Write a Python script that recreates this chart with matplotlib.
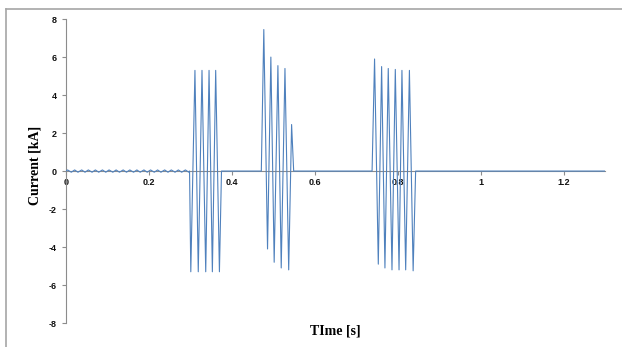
import matplotlib
matplotlib.use("Agg")
import matplotlib.pyplot as plt
from matplotlib.lines import Line2D

plt.rcParams["axes.unicode_minus"] = False

# ripple before the first burst (kA)
ripple_t = [0.0, 0.004, 0.013, 0.021, 0.029, 0.038, 0.046, 0.054, 0.063, 0.071, 0.079,
            0.088, 0.096, 0.104, 0.113, 0.121, 0.129, 0.138, 0.146, 0.154, 0.163,
            0.171, 0.179, 0.188, 0.196, 0.204, 0.213, 0.221, 0.229, 0.238, 0.246,
            0.254, 0.263, 0.271, 0.279, 0.288, 0.296]
ripple_i = [0.0, 0.06, -0.06, 0.06, -0.06, 0.06, -0.06, 0.06, -0.06, 0.06, -0.06,
            0.06, -0.06, 0.06, -0.06, 0.06, -0.06, 0.06, -0.06, 0.06, -0.06,
            0.06, -0.06, 0.06, -0.06, 0.06, -0.06, 0.06, -0.06, 0.06, -0.06,
            0.06, -0.06, 0.06, -0.06, 0.06, -0.06]

burst1_t = [0.298, 0.301, 0.311, 0.319, 0.328, 0.337, 0.345, 0.353, 0.361, 0.370, 0.375]
burst1_i = [0.0, -5.3, 5.3, -5.3, 5.3, -5.3, 5.3, -5.3, 5.3, -5.3, 0.0]

burst2_t = [0.471, 0.477, 0.486, 0.494, 0.502, 0.511, 0.519, 0.528, 0.537, 0.544, 0.549]
burst2_i = [0.0, 7.45, -4.1, 6.0, -4.8, 5.55, -5.1, 5.4, -5.2, 2.45, 0.0]

burst3_t = [0.738, 0.744, 0.753, 0.761, 0.769, 0.777, 0.786, 0.794, 0.803, 0.810,
            0.819, 0.828, 0.837, 0.843]
burst3_i = [0.0, 5.9, -4.9, 5.5, -5.1, 5.4, -5.2, 5.35, -5.2, 5.3, -5.2, 5.3, -5.25, 0.0]

end_t = [1.3]
end_i = [0.0]

t = ripple_t + burst1_t + burst2_t + burst3_t + end_t
current = ripple_i + burst1_i + burst2_i + burst3_i + end_i

xticks = [0, 0.2, 0.4, 0.6, 0.8, 1, 1.2]
xtick_labels = ["0", "0.2", "0.4", "0.6", "0.8", "1", "1.2"]
yticks = [-8, -6, -4, -2, 0, 2, 4, 6, 8]

fig = plt.figure(figsize=(6.22, 3.47), dpi=100)
ax = fig.add_axes([0.106, 0.069, 0.867, 0.876])

ax.plot(t, current, color="#4f81bd", lw=0.8, zorder=3)

ax.set_xlim(0, 1.3)
ax.set_ylim(-8, 8)
ax.set_xticks(xticks)
ax.set_xticklabels(xtick_labels)
ax.set_yticks(yticks)

for s in ["top", "right"]:
    ax.spines[s].set_visible(False)
ax.spines["bottom"].set_position(("data", 0))
ax.spines["bottom"].set_color("#8c8c8c")
ax.spines["left"].set_color("#8c8c8c")
ax.spines["bottom"].set_linewidth(0.8)
ax.spines["left"].set_linewidth(0.8)

ax.tick_params(axis="both", labelsize=6.5, colors="#8c8c8c", labelcolor="#111111",
               length=3, width=0.8)
ax.tick_params(axis="x", pad=2)
for lab in ax.get_xticklabels() + ax.get_yticklabels():
    lab.set_family("Liberation Sans")
    lab.set_fontweight("bold")

fig.text(35 / 622, 1 - 165 / 347, "Current [kA]", rotation=90, ha="center", va="center",
         family="Liberation Serif", fontweight="bold", fontsize=10)
fig.text(335 / 622, 1 - 331 / 347, "TIme [s]", ha="center", va="center",
         family="Liberation Serif", fontweight="bold", fontsize=10)

# outer frame (top and left edges visible)
fig.add_artist(Line2D([6 / 622, 1.0], [1 - 9 / 347, 1 - 9 / 347], transform=fig.transFigure,
                      color="#a6a6a6", lw=1.2))
fig.add_artist(Line2D([6 / 622, 6 / 622], [0.0, 1 - 9 / 347], transform=fig.transFigure,
                      color="#a6a6a6", lw=1.2))

fig.savefig("out.png", dpi=100)
